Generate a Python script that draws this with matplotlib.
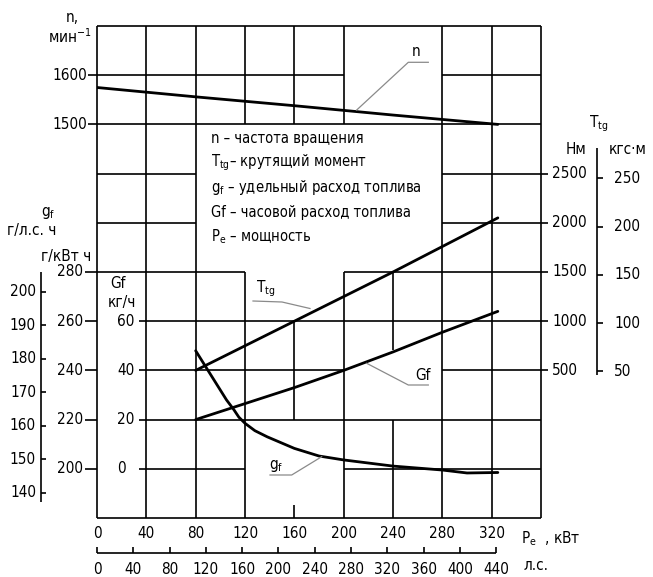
import matplotlib
matplotlib.use("Agg")
from matplotlib import pyplot as plt

plt.rcParams['font.family'] = ['DejaVu Sans']
plt.rcParams['font.stretch'] = 'condensed'
plt.rcParams['mathtext.fontset'] = 'custom'
plt.rcParams['mathtext.rm'] = 'DejaVu Sans:stretch=condensed'
plt.rcParams['mathtext.it'] = 'DejaVu Sans:stretch=condensed'
plt.rcParams['mathtext.default'] = 'regular'

# --- data (power Pe in kW) ---
pe_n = [0, 80, 160, 240, 325]
n_rpm = [1575, 1556, 1538, 1519, 1500]

pe_t = [80, 160, 240, 325]
torque_nm = [500, 1000, 1500, 2050]

pe_G = [80, 120, 160, 200, 240, 280, 325]
Gf_kgh = [20, 26.5, 33, 40, 47.5, 55.5, 64]

pe_g = [80, 95, 105, 111, 115, 120, 128, 138, 160, 180, 200, 240, 280, 300, 325]
gf_gkwh = [248, 236, 228, 224, 221, 218.5, 215.5, 213, 208.3, 205.2, 203.6, 201.1, 199.5, 198.3, 198.5]

# axis tick values
n_ticks = [1600, 1500]
gf_ticks = [280, 260, 240, 220, 200]
Gf_ticks = [60, 40, 20, 0]
gf_hp_ticks = [200, 190, 180, 170, 160, 150, 140]
nm_ticks = [2500, 2000, 1500, 1000, 500]
kgm_ticks = [250, 200, 150, 100, 50]
kw_ticks = [0, 40, 80, 120, 160, 200, 240, 280, 320]
hp_ticks = [0, 40, 80, 120, 160, 200, 240, 280, 320, 360, 400, 440]


# all scales mapped onto grid rows (0 = bottom line, 10 = top line)
def row_n(v):
    return 8 + (v - 1500) / 100.0

def row_t(v):
    return 2 + v / 500.0

def row_G(v):
    return 1 + v / 20.0

def row_g(v):
    return 1 + (v - 200) / 20.0


# helpers to place labels at picture positions
def kx(px):
    return (px - 97) / 444.0 * 360

def jy(py):
    return (518 - py) / 49.2


fig = plt.figure(figsize=(6.53, 5.77), dpi=100)
ax = fig.add_axes([97 / 653, (577 - 518) / 577, 444 / 653, 492 / 577])
ax.set_xlim(0, 360)
ax.set_ylim(0, 10)
ax.axis('off')

GRID = dict(color='black', lw=1.2, solid_capstyle='butt', clip_on=False)

# horizontal grid segments: row -> list of (column from, column to)
hsegs = {
    10: [(0, 9)],
    9: [(-0.18, 5), (7, 9)],
    8: [(-0.18, 9)],
    7: [(0, 2), (7, 9.14)],
    6: [(0, 2), (7, 9.14)],
    5: [(-0.25, 3), (5, 9.14)],
    4: [(-0.25, 0), (0.85, 9.14)],
    3: [(-0.25, 0), (0.85, 5), (7, 9.14)],
    2: [(-0.25, 0), (0.85, 9)],
    1: [(-0.25, 0), (0.85, 3), (5, 9)],
    0: [(0, 9)],
}
for r, segs in hsegs.items():
    for a, b in segs:
        ax.plot([a * 40, b * 40], [r, r], **GRID)

# vertical grid segments: column -> list of (row from, row to)
vsegs = {
    0: [(0, 10)], 1: [(0, 10)], 2: [(0, 10)],
    3: [(0, 5), (8, 10)],
    4: [(0, 0.27), (2, 4), (8, 10)],
    5: [(0, 5), (8, 10)],
    6: [(0, 2), (5, 3.42)],
    7: [(0, 10)], 8: [(0, 10)], 9: [(0, 10)],
}
for c, segs in vsegs.items():
    for a, b in segs:
        ax.plot([c * 40, c * 40], [a, b], **GRID)

# curves
CURVE = dict(color='black', lw=2.0, solid_capstyle='round', solid_joinstyle='round')
ax.plot(pe_n, [row_n(v) for v in n_rpm], **CURVE)
ax.plot(pe_t, [row_t(v) for v in torque_nm], **CURVE)
ax.plot(pe_G, [row_G(v) for v in Gf_kgh], **CURVE)
ax.plot(pe_g, [row_g(v) for v in gf_gkwh], **CURVE)

# leader lines and curve names
LEAD = dict(color='#8a8a8a', lw=0.9, clip_on=False)
FS = 11
LFS = 10.5
ax.plot([kx(356.7), kx(408.3), kx(428.3)], [jy(110), jy(62.3), jy(62.3)], **LEAD)
ax.text(kx(416), jy(51), "n", fontsize=FS, ha='center', va='center')
ax.plot([kx(310), kx(282), kx(253)], [jy(308.5), jy(302), jy(301)], **LEAD)
ax.text(kx(266), jy(289), "T$_{tg}$", fontsize=FS, ha='center', va='center')
ax.plot([kx(366.7), kx(408.3), kx(428.3)], [jy(363.3), jy(385), jy(385)], **LEAD)
ax.text(kx(423), jy(375), "Gf", fontsize=FS, ha='center', va='center')
ax.plot([kx(321.7), kx(291.7), kx(270)], [jy(456.7), jy(475), jy(475)], **LEAD)
ax.text(kx(276), jy(466), "g$_f$", fontsize=FS, ha='center', va='center')

# legend block
legend_lines = [
    "n – частота вращения",
    "T$_{tg}$– крутящий момент",
    "g$_f$ – удельный расход топлива",
    "Gf – часовой расход топлива",
    "P$_e$ – мощность",
]
for k, s in enumerate(legend_lines):
    ax.text(kx(211), jy(138 + 24.7 * k), s, fontsize=LFS, ha='left', va='center')

# left: rotational speed scale
for v in n_ticks:
    ax.text(kx(87), row_n(v), str(v), fontsize=FS, ha='right', va='center')
ax.text(kx(72), jy(18), "n,", fontsize=FS, ha='center', va='center')
ax.text(kx(70), jy(37), "мин$^{-1}$", fontsize=FS, ha='center', va='center')

# left: specific consumption in g/kWh and hourly consumption kg/h
for v in gf_ticks:
    ax.text(kx(83), row_g(v), str(v), fontsize=FS, ha='right', va='center')
for v in Gf_ticks:
    ax.text(kx(117), row_G(v), str(v), fontsize=FS, ha='left', va='center')
ax.text(kx(118), jy(284), "Gf", fontsize=FS, ha='center', va='center')
ax.text(kx(122), jy(303), "кг/ч", fontsize=FS, ha='center', va='center')

# far left: specific consumption in g/hp*h
hp_rows = [row_g(v * 1.35962) for v in gf_hp_ticks]
ax.plot([kx(40.7), kx(40.7)], [jy(501.7), jy(271.7)], **GRID)
for v, r in zip(gf_hp_ticks, hp_rows):
    ax.plot([kx(40.7), kx(46.5)], [r, r], **GRID)
    ax.text(kx(36), r, str(v), fontsize=FS, ha='right', va='center')
ax.text(kx(48), jy(213), "g$_f$", fontsize=FS, ha='center', va='center')
ax.text(kx(32), jy(231), "г/л.с. ч", fontsize=FS, ha='center', va='center')
ax.text(kx(66), jy(257), "г/кВт ч", fontsize=FS, ha='center', va='center')

# right: torque in N*m and kgf*m
for v in nm_ticks:
    ax.text(kx(552), row_t(v), str(v), fontsize=FS, ha='left', va='center')
kgm_rows = [row_t(v * 9.80665) for v in kgm_ticks]
ax.plot([kx(597), kx(597)], [jy(375), jy(148)], **GRID)
for v, r in zip(kgm_ticks, kgm_rows):
    ax.plot([kx(597), kx(603)], [r, r], **GRID)
    ax.text(kx(614), r, str(v), fontsize=FS, ha='left', va='center')
ax.text(kx(599), jy(124), "T$_{tg}$", fontsize=FS, ha='center', va='center')
ax.text(kx(576), jy(150), "Нм", fontsize=FS, ha='center', va='center')
ax.text(kx(628), jy(150), "кгс·м", fontsize=FS, ha='center', va='center')

# bottom: power in kW and hp
for v in kw_ticks:
    ax.text(v, jy(534), str(v), fontsize=FS, ha='center', va='center')
ax.text(kx(521), jy(539), "P$_e$  , кВт", fontsize=FS, ha='left', va='center')
hp_x = [v * 0.7355 for v in hp_ticks]
ax.plot([hp_x[0], hp_x[-1]], [jy(553), jy(553)], **GRID)
for v, x in zip(hp_ticks, hp_x):
    ax.plot([x, x], [jy(553), jy(547)], **GRID)
    ax.text(x, jy(569), str(v), fontsize=FS, ha='center', va='center')
ax.text(kx(524), jy(566), "л.с.", fontsize=FS, ha='left', va='center')

fig.savefig("out.png", dpi=100, facecolor='white')
